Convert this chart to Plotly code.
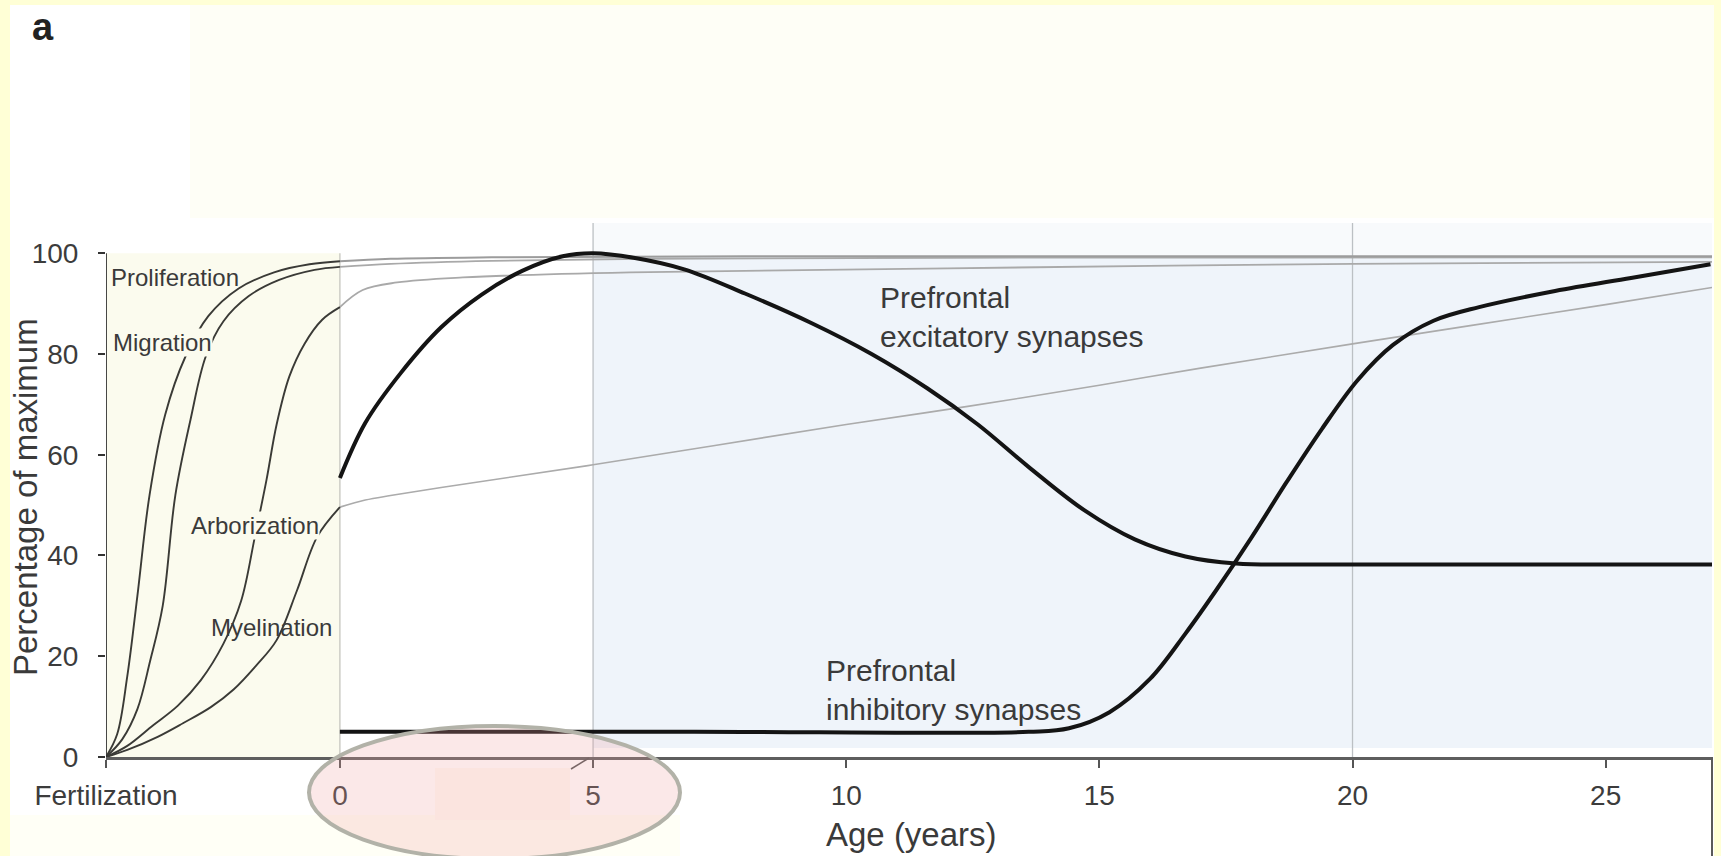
import plotly.graph_objects as go

# ---- data -------------------------------------------------------------
FERT = -4.62  # position of fertilization on the age axis

# prenatal growth curves (percentage of maximum)
prolif_x = [-4.62, -4.40, -4.20, -4.00, -3.76, -3.45, -3.05, -2.60, -2.00, -1.30, -0.60, 0.0]
prolif_y = [0, 4.5, 16.0, 32.0, 52.0, 68.0, 79.5, 87.5, 93.0, 96.2, 97.8, 98.4]

migr_x = [-4.62, -4.30, -4.00, -3.75, -3.50, -3.25, -2.95, -2.65, -2.30, -1.80, -1.20, -0.50, 0.0]
migr_y = [0, 3.5, 9.5, 19.0, 30.0, 52.0, 67.0, 79.5, 86.5, 91.5, 94.7, 96.7, 97.3]

arbor_x = [-4.62, -4.20, -3.70, -3.20, -2.75, -2.30, -1.95, -1.68, -1.45, -1.25, -1.00, -0.70, -0.35, 0.0]
arbor_y = [0, 2.2, 6.2, 10.2, 15.2, 22.5, 31.0, 43.7, 55.0, 66.0, 75.5, 82.0, 86.8, 89.3]

myel_x = [-4.62, -4.20, -3.60, -3.10, -2.55, -2.10, -1.65, -1.25, -0.85, -0.45, 0.0]
myel_y = [0, 1.4, 4.0, 6.7, 9.9, 13.4, 18.2, 23.2, 33.0, 43.7, 49.6]

# postnatal continuation of the same processes
prolif_post_x = [0, 1, 3, 8, 27.1]
prolif_post_y = [98.4, 98.9, 99.2, 99.4, 99.4]

migr_post_x = [0, 1, 3, 6, 12, 27.1]
migr_post_y = [97.3, 97.9, 98.5, 98.9, 99.1, 99.2]

arbor_post_x = [0, 0.45, 1.13, 2.43, 5.73, 12, 20, 27.1]
arbor_post_y = [89.3, 92.7, 94.2, 95.2, 96.2, 97.0, 97.9, 98.3]

myel_post_x = [0, 0.5, 1, 2, 5, 10, 12.4, 15, 17, 20, 25, 27.1]
myel_post_y = [49.6, 51.0, 51.9, 53.5, 58.0, 66.0, 69.6, 73.8, 77.2, 82.0, 89.8, 93.2]

# prefrontal synapses
exc_x = [0, 0.5, 1.2, 2.0, 2.8, 3.6, 4.4, 5.0, 5.8, 6.8, 8.0, 9.3, 10.5, 11.6,
         12.6, 13.6, 14.7, 15.7, 16.7, 17.7, 19.0, 27.1]
exc_y = [55.4, 66.3, 76.2, 85.3, 91.8, 96.5, 99.4, 100, 99.1, 96.8, 92.0, 86.2, 80.0, 73.2,
         66.0, 57.6, 49.0, 43.2, 39.8, 38.4, 38.2, 38.2]

inh_x = [0, 7, 13.6, 14.4, 15.2, 16.0, 16.7, 17.3, 18.0, 18.7, 19.4, 20.1, 20.8, 21.6,
         22.5, 24.0, 25.5, 27.07]
inh_y = [5, 5, 5, 5.7, 8.9, 15.5, 24.5, 33.0, 43.5, 54.6, 65.2, 74.8, 81.8, 86.6,
         89.3, 92.5, 95.1, 97.8]

x_tickvals = [FERT, 0, 5, 10, 15, 20, 25]
x_ticktext = ["Fertilization", "0", "5", "10", "15", "20", "25"]
y_tickvals = [0, 20, 40, 60, 80, 100]

# ---- layout geometry (pixels) ------------------------------------------
W, H = 1721, 856
L, R, T, B = 106, 9, 223, 99
PW, PH = W - L - R, H - T - B
X_MAX = 27.1
Y_MAX = 106.0


def px(xp):
    return (xp - L) / PW


def py(yp):
    return (H - B - yp) / PH


FONT = "Liberation Sans, Arial, Helvetica, sans-serif"
DARK = "#3a3a36"
POST = "#a9a9a9"
PRENATAL_BG = "#fbfbee"

fig = go.Figure()


def add_line(x, y, color, width, smooth=1.0):
    fig.add_trace(go.Scatter(
        x=x, y=y, mode="lines",
        line=dict(color=color, width=width, shape="spline", smoothing=smooth),
        hoverinfo="skip", showlegend=False, cliponaxis=False,
    ))


# postnatal continuations (light grey)
add_line(myel_post_x, myel_post_y, "#ababab", 1.6)
add_line(arbor_post_x, arbor_post_y, POST, 1.8)
add_line(migr_post_x, migr_post_y, POST, 1.8)
add_line(prolif_post_x, prolif_post_y, "#9c9c9c", 2.0)

# prenatal curves (dark)
for xs, ys in [(prolif_x, prolif_y), (migr_x, migr_y), (arbor_x, arbor_y), (myel_x, myel_y)]:
    add_line(xs, ys, DARK, 1.9)

# prefrontal synapses (heavy black)
add_line(exc_x, exc_y, "#141414", 4.0)
add_line(inh_x, inh_y, "#141414", 4.0)

shapes = []
# page: yellow frame, white sheet, pale bands
shapes.append(dict(type="rect", xref="paper", yref="paper", x0=px(10), x1=px(1714), y0=py(856), y1=py(5),
                   fillcolor="#ffffff", line=dict(width=0), layer="below"))
shapes.append(dict(type="rect", xref="paper", yref="paper", x0=px(190), x1=px(1714), y0=py(218), y1=py(5),
                   fillcolor="#fefef6", line=dict(width=0), layer="below"))
shapes.append(dict(type="rect", xref="paper", yref="paper", x0=px(10), x1=px(680), y0=py(856), y1=py(815),
                   fillcolor="#fffff6", line=dict(width=0), layer="below"))
shapes.append(dict(type="rect", xref="paper", yref="paper", x0=px(435), x1=px(570), y0=py(820), y1=py(768),
                   fillcolor="#fffaf4", line=dict(width=0), layer="below"))

# shaded periods
shapes.append(dict(type="rect", xref="x", yref="y", x0=FERT, x1=0, y0=0, y1=100,
                   fillcolor=PRENATAL_BG, line=dict(width=0), layer="below"))
shapes.append(dict(type="rect", xref="x", yref="y", x0=5, x1=X_MAX, y0=99.4, y1=Y_MAX,
                   fillcolor="#f8fafc", line=dict(width=0), layer="below"))
shapes.append(dict(type="rect", xref="x", yref="y", x0=5, x1=X_MAX, y0=1.8, y1=99.4,
                   fillcolor="#eff4fa", line=dict(width=0), layer="below"))

# period boundaries
shapes.append(dict(type="line", xref="x", yref="y", x0=0, x1=0, y0=0, y1=100,
                   line=dict(color="#c6c6be", width=1.3), layer="below"))
for xv in (5, 20):
    shapes.append(dict(type="line", xref="x", yref="y", x0=xv, x1=xv, y0=0, y1=Y_MAX,
                       line=dict(color="#bcc0c4", width=1.3), layer="below"))

# vertical axis line (0-100 only)
shapes.append(dict(type="line", xref="x", yref="y", x0=FERT, x1=FERT, y0=0, y1=100,
                   line=dict(color="#333333", width=1.8), layer="above"))
# frame edge on the right below the axis
shapes.append(dict(type="line", xref="paper", yref="paper", x0=px(1712), x1=px(1712), y0=py(757), y1=py(856),
                   line=dict(color="#5a5a5a", width=2)))
# small stroke next to the 5 tick
shapes.append(dict(type="line", xref="paper", yref="paper", x0=px(571), x1=px(589), y0=py(769), y1=py(758),
                   line=dict(color="#555555", width=1.5)))
# highlight ellipse over the 0-5 years span
shapes.append(dict(type="circle", xref="paper", yref="paper", x0=px(309), x1=px(680), y0=py(859), y1=py(726),
                   fillcolor="rgba(240,160,160,0.24)", line=dict(color="#b2b2a8", width=4), layer="above"))

annotations = []


def label(text, x, y, size=24, bg=None):
    d = dict(text=text, x=x, y=y, xref="x", yref="y", showarrow=False, xanchor="left",
             yanchor="middle", align="left", font=dict(family=FONT, size=size, color="#3a3a3a"),
             borderpad=0)
    if bg:
        d["bgcolor"] = bg
    annotations.append(d)


label("Proliferation", -4.55, 95.2)
label("Migration", -4.51, 82.3, bg=PRENATAL_BG)
label("Arborization", -2.96, 46.0, bg=PRENATAL_BG)
label("Myelination", -2.57, 25.8)
label("Prefrontal<br>excitatory synapses", 10.65, 87.3, size=30)
label("Prefrontal<br>inhibitory synapses", 9.58, 13.3, size=30)

annotations.append(dict(text="<b>a</b>", xref="paper", yref="paper", x=px(43), y=py(27), showarrow=False,
                        xanchor="center", yanchor="middle",
                        font=dict(family="Liberation Sans, Arial, sans-serif", size=38, color="#222222")))
annotations.append(dict(text="Percentage of maximum", xref="paper", yref="paper", x=px(26), y=py(497),
                        showarrow=False, textangle=-90, xanchor="center", yanchor="middle",
                        font=dict(family=FONT, size=33, color="#3a3a3a")))
annotations.append(dict(text="Age (years)", xref="paper", yref="paper", x=px(911), y=py(834),
                        showarrow=False, xanchor="center", yanchor="middle",
                        font=dict(family=FONT, size=33, color="#3a3a3a")))

fig.update_layout(
    width=W, height=H,
    margin=dict(l=L, r=R, t=T, b=B, autoexpand=False),
    paper_bgcolor="#ffffd6",
    plot_bgcolor="rgba(0,0,0,0)",
    shapes=shapes,
    annotations=annotations,
    showlegend=False,
    xaxis=dict(range=[FERT, X_MAX], showgrid=False, zeroline=False, showline=True,
               linecolor="#5e5e5e", linewidth=2.5, ticks="outside", ticklen=8, tickwidth=1.8,
               tickcolor="#555555", tickvals=x_tickvals, ticktext=x_ticktext,
               tickfont=dict(family=FONT, size=28, color="#3c3c3c"), ticklabelstandoff=4),
    yaxis=dict(range=[0, Y_MAX], showgrid=False, zeroline=False, showline=False,
               ticks="outside", ticklen=7, tickwidth=1.6, tickcolor="#333333",
               tickvals=y_tickvals, tickfont=dict(family=FONT, size=28, color="#3c3c3c"),
               ticklabelstandoff=14),
)

fig.write_html("out.html")
